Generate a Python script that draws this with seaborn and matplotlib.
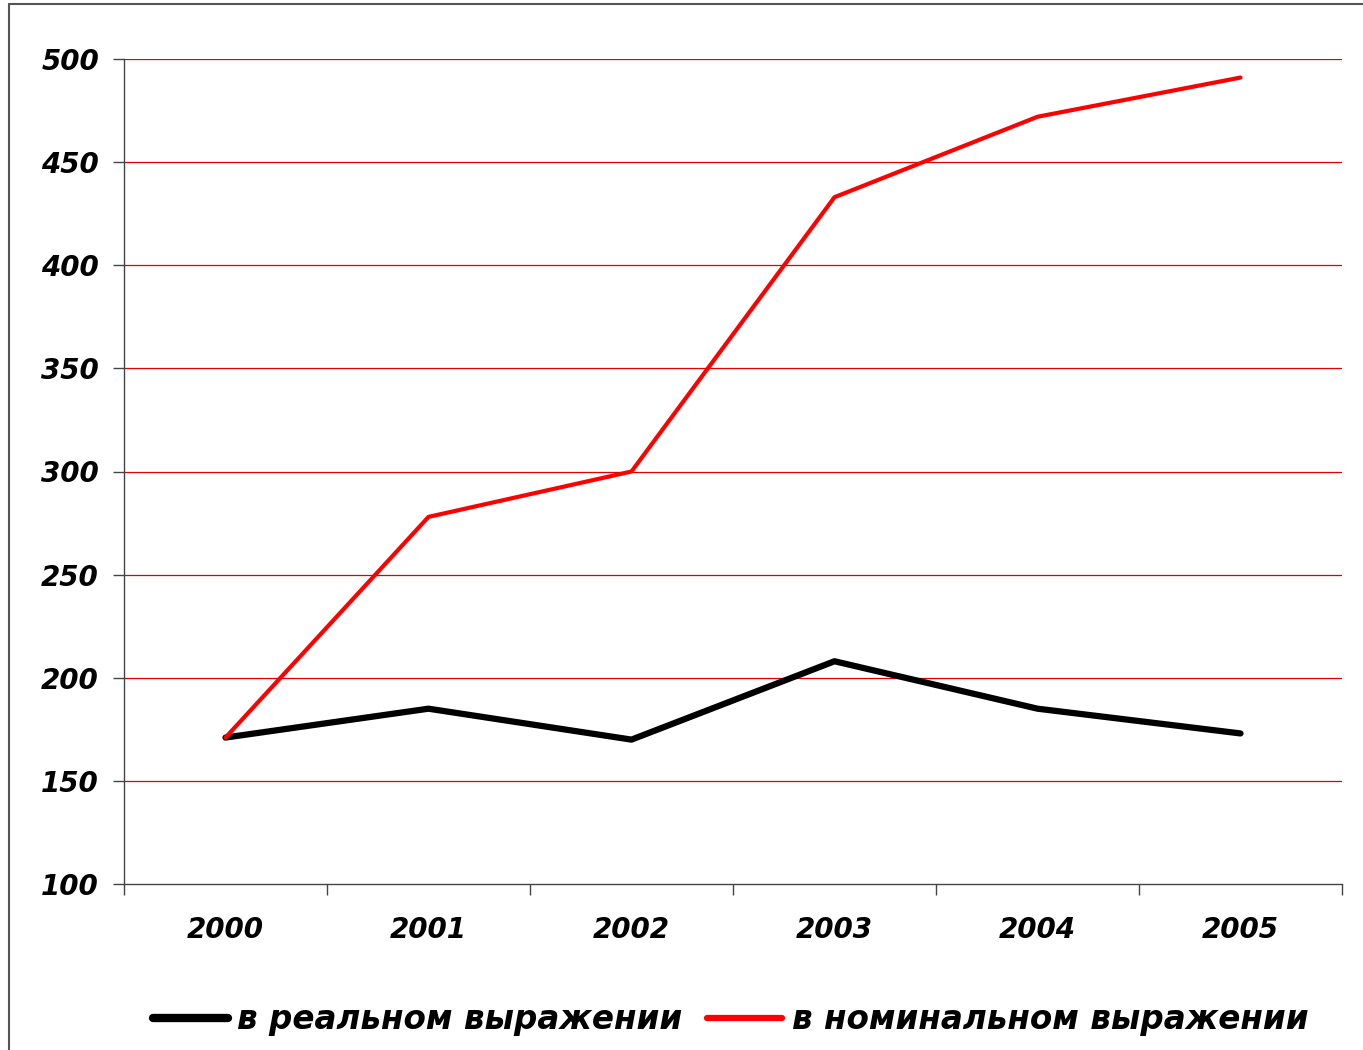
import matplotlib
matplotlib.use("Agg")
import matplotlib.pyplot as plt
import seaborn as sns
import pandas as pd
import numpy as np
from matplotlib.lines import Line2D
from matplotlib.ticker import FixedLocator

years = ["2000", "2001", "2002", "2003", "2004", "2005"]
real_values = [171, 185, 170, 208, 185, 173]
nominal_values = [171, 278, 300, 433, 472, 491]
series_labels = ["в реальном выражении", "в номинальном выражении"]
y_ticks = [100, 150, 200, 250, 300, 350, 400, 450, 500]

sns.set_style("white")
plt.rcParams['font.family'] = ['DejaVu Sans']
plt.rcParams['text.color'] = 'black'
plt.rcParams['xtick.color'] = 'black'
plt.rcParams['ytick.color'] = 'black'

fig = plt.figure(figsize=(13.63, 10.5), dpi=100)
ax = fig.add_axes([124/1363, 1 - 884/1050, (1342-124)/1363, (884-59)/1050])

df = pd.DataFrame({"pos": np.arange(len(years)), "real": real_values, "nominal": nominal_values})

for y in y_ticks[1:]:
    ax.axhline(y, color="#e00000", linewidth=0.9, zorder=0)

sns.lineplot(data=df, x="pos", y="real", ax=ax, color="black", linewidth=4.5,
             label=series_labels[0], solid_capstyle="round", zorder=3)
sns.lineplot(data=df, x="pos", y="nominal", ax=ax, color="#ff0000", linewidth=3.0,
             label=series_labels[1], solid_capstyle="round", zorder=4)

ax.set_xlim(-0.5, len(years) - 0.5)
ax.set_ylim(100, 500)
ax.set_yticks(y_ticks)
ax.set_xticks(np.arange(len(years)))
ax.set_xticklabels(years)
ax.xaxis.set_minor_locator(FixedLocator(np.arange(-0.5, len(years), 1.0)))
ax.tick_params(axis="x", which="major", length=0, pad=23, labelcolor="black")
ax.tick_params(axis="x", which="minor", length=8, width=1, color="#444444", direction="out", bottom=True)
ax.tick_params(axis="y", length=8, width=1, color="#444444", direction="out", left=True, pad=10, labelcolor="black")
ax.set_xlabel("")
ax.set_ylabel("")

for lab in ax.get_xticklabels() + ax.get_yticklabels():
    lab.set_fontsize(20)
    lab.set_fontweight("heavy")
    lab.set_fontstyle("italic")
    lab.set_color("black")

for side in ["top", "right"]:
    ax.spines[side].set_visible(False)
for side in ["left", "bottom"]:
    ax.spines[side].set_color("#444444")
    ax.spines[side].set_linewidth(1)

ax.get_legend().remove()
handles = [Line2D([0], [0], color="black", linewidth=6, solid_capstyle="round"),
           Line2D([0], [0], color="#ff0000", linewidth=4.5, solid_capstyle="round")]
leg = fig.legend(handles, series_labels, loc="center", bbox_to_anchor=(0.536, 1 - 1020/1050),
                 ncol=2, frameon=False, handlelength=2.3, handletextpad=0.3, columnspacing=0.75,
                 prop={"size": 23.5, "weight": "bold", "style": "italic"})
for t in leg.get_texts():
    t.set_color("black")

# outer frame (top and left edges visible)
fig.add_artist(Line2D([9/1363, 1.0], [1 - 4/1050, 1 - 4/1050], transform=fig.transFigure, color="#555555", linewidth=1.5))
fig.add_artist(Line2D([9/1363, 9/1363], [0.0, 1 - 4/1050], transform=fig.transFigure, color="#555555", linewidth=1.5))

fig.savefig("out.png", dpi=100)
